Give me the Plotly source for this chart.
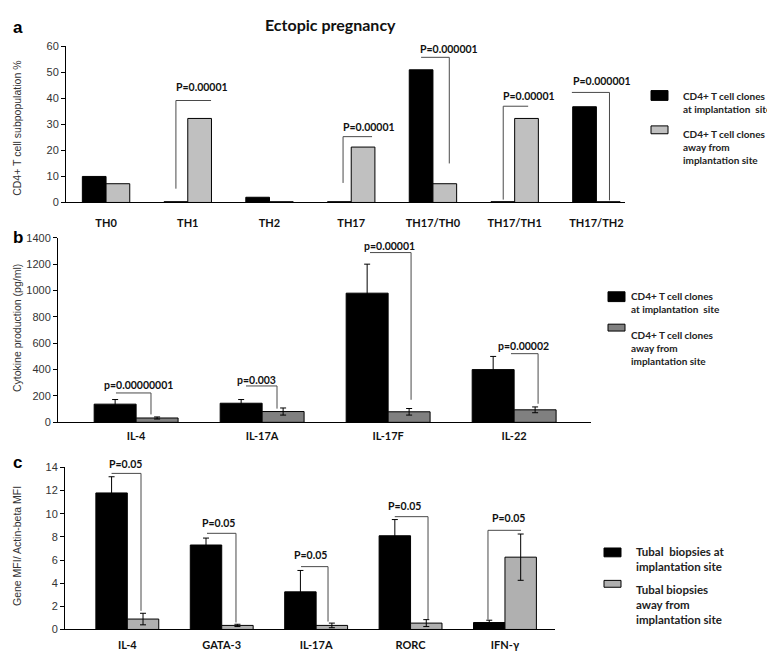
import plotly.graph_objects as go

W, H = 775, 652

# ---------------- data ----------------
a_categories = ["TH0", "TH1", "TH2", "TH17", "TH17/TH0", "TH17/TH1", "TH17/TH2"]
a_at_site = [10.0, 0.3, 2.0, 0.3, 51.0, 0.3, 36.8]
a_away = [7.2, 32.3, 0.3, 21.3, 7.2, 32.3, 0.3]

b_categories = ["IL-4", "IL-17A", "IL-17F", "IL-22"]
b_at_site = [138, 145, 980, 400]
b_at_site_err = [35, 28, 220, 100]
b_away = [33, 82, 80, 95]
b_away_err = [8, 27, 25, 22]

c_categories = ["IL-4", "GATA-3", "IL-17A", "RORC", "IFN-γ"]
c_at_site = [11.8, 7.3, 3.25, 8.1, 0.6]
c_at_site_err = [1.4, 0.6, 1.85, 1.4, 0.2]
c_away = [0.9, 0.35, 0.35, 0.55, 6.25]
c_away_err = [0.5, 0.1, 0.2, 0.3, 2.0]

a_pvalues = ["P=0.00001", "P=0.00001", "P=0.000001", "P=0.00001", "P=0.000001"]
b_pvalues = ["p=0.00000001", "p=0.003", "p=0.00001", "p=0.00002"]
c_pvalues = ["P=0.05", "P=0.05", "P=0.05", "P=0.05", "P=0.05"]

# ---------------- styling ----------------
LATO = "Lato"
ARIAL = "Liberation Sans"
BRK = "#4a4a4a"


def px_x(x):
    return x / W


def px_y(y):
    return 1 - y / H


fig = go.Figure()

# panel geometry (pixels)
panels = {
    "a": dict(x0=58, x1=617, y0=33, y1=192, xr=[-0.49, 6.35], yr=[0, 60], dt=10, bw=0.29, tl=10),
    "b": dict(x0=50, x1=583, y0=228, y1=416, xr=[-0.62, 3.61], yr=[0, 1400], dt=200, bw=0.333, tl=3),
    "c": dict(x0=57, x1=547, y0=462, y1=627, xr=[-0.66, 4.53], yr=[0, 14], dt=2, bw=0.333, tl=5),
}
grey = {"a": "#c0c0c0", "b": "#808080", "c": "#b0b0b0"}

series = {
    "a": (a_categories, a_at_site, None, a_away, None),
    "b": (b_categories, b_at_site, b_at_site_err, b_away, b_away_err),
    "c": (c_categories, c_at_site, c_at_site_err, c_away, c_away_err),
}

axis_ids = {"a": ("x", "y", "xaxis", "yaxis"), "b": ("x2", "y2", "xaxis2", "yaxis2"),
            "c": ("x3", "y3", "xaxis3", "yaxis3")}

layout_axes = {}
for key, p in panels.items():
    cats, v1, e1, v2, e2 = series[key]
    xs = list(range(len(cats)))
    xa, ya, xan, yan = axis_ids[key]
    bw = p["bw"]
    err1 = dict(type="data", array=e1, symmetric=True, color="black", thickness=1, width=3) if e1 else None
    err2 = dict(type="data", array=e2, symmetric=True, color="black", thickness=1, width=3) if e2 else None
    fig.add_trace(go.Bar(x=xs, y=v1, width=bw, offset=-bw,
                         marker=dict(color="black", line=dict(color="black", width=1)),
                         error_y=err1, xaxis=xa, yaxis=ya, showlegend=False))
    fig.add_trace(go.Bar(x=xs, y=v2, width=bw, offset=0,
                         marker=dict(color=grey[key], line=dict(color="black", width=1)),
                         error_y=err2, xaxis=xa, yaxis=ya, showlegend=False))
    layout_axes[xan] = dict(
        domain=[px_x(p["x0"]), px_x(p["x1"])], range=p["xr"], anchor=ya,
        tickmode="array", tickvals=xs, ticktext=cats,
        showline=True, linecolor="black", linewidth=1, showgrid=False, zeroline=False,
        ticks="outside", ticklen=p["tl"], tickcolor="rgba(0,0,0,0)",
        tickfont=dict(family=LATO, size=11, color="#111", weight="bold"),
    )
    layout_axes[yan] = dict(
        domain=[px_y(p["y1"]), px_y(p["y0"])], range=p["yr"], anchor=xa, dtick=p["dt"],
        showline=True, linecolor="black", linewidth=1, showgrid=False, zeroline=False,
        ticks="outside", ticklen=4, tickcolor="black",
        tickfont=dict(family=ARIAL, size=11, color="#333"),
    )

fig.update_layout(**layout_axes)

shapes = []
annotations = []


def line(xref, yref, x0, y0, x1, y1):
    shapes.append(dict(type="line", xref=xref, yref=yref, x0=x0, y0=y0, x1=x1, y1=y1,
                       line=dict(color=BRK, width=1)))


def value_to_paper(key, v):
    p = panels[key]
    d0, d1 = px_y(p["y1"]), px_y(p["y0"])
    r0, r1 = p["yr"]
    return d0 + (v - r0) / (r1 - r0) * (d1 - d0)


def bracket(key, xl, xr, yt, yl, yr_, tx, ty, text, size):
    xa, ya = axis_ids[key][0], axis_ids[key][1]
    line(xa, ya, xl, yt, xr, yt)
    if yl is not None:
        line(xa, ya, xl, yl, xl, yt)
    if yr_ is not None:
        line(xa, ya, xr, yr_, xr, yt)
    annotations.append(dict(xref=xa, yref="paper", x=tx, y=value_to_paper(key, ty), text=text,
                            showarrow=False,
                            font=dict(family=LATO, size=size, color="#111", weight="bold"),
                            xanchor="center", yanchor="middle"))


# panel a brackets: x_left, x_right, y_top, y_left_bottom, y_right_bottom, text_x, text_y
a_br = [
    (0.855, 1.285, 39.2, 5.3, None, 1.18, 44.5),
    (2.90, 3.255, 25.3, 7.5, None, 3.22, 29.0),
    (3.855, 4.20, 55.8, None, 15.0, 4.20, 59.0),
    (4.86, 5.165, 37.0, 1.1, None, 5.18, 40.8),
    (5.70, 6.16, 42.3, None, 0.8, 6.07, 46.8),
]
for br, t in zip(a_br, a_pvalues):
    bracket("a", *br, t, 10.5)

b_br = [
    (-0.16, 0.118, 223, None, 60, 0.02, 283),
    (0.872, 1.118, 276, None, 104, 0.955, 320),
    (1.856, 2.182, 1288, None, 171, 2.01, 1340),
    (2.975, 3.19, 521, None, 141, 3.074, 581),
]
for br, t in zip(b_br, b_pvalues):
    bracket("b", *br, t, 10.5)

c_br = [
    (-0.167, 0.145, 13.49, None, 1.61, -0.014, 14.33),
    (0.844, 1.151, 8.31, None, 0.6, 0.961, 9.16),
    (1.84, 2.126, 5.43, None, 0.68, 1.94, 6.45),
    (2.833, 3.185, 9.75, None, 0.9, 2.94, 10.69),
    (3.82, 4.17, 8.57, 0.85, None, 4.033, 9.67),
]
for br, t in zip(c_br, c_pvalues):
    bracket("c", *br, t, 10.5)


# legends (boxes + text), pixel coords
def legend_box(x0, y0, x1, y1, color):
    shapes.append(dict(type="rect", xref="paper", yref="paper",
                       x0=px_x(x0), x1=px_x(x1), y0=px_y(y1), y1=px_y(y0),
                       fillcolor=color, line=dict(color="black", width=1)))


def legend_text(x, yc, text, size):
    annotations.append(dict(xref="paper", yref="paper", x=px_x(x), y=px_y(yc), text=text,
                            showarrow=False, align="left", xanchor="left", yanchor="middle",
                            font=dict(family=LATO, size=size, color="#222", weight="bold")))


legend_box(643, 78, 660, 88, "black")
legend_text(673, 90, "CD4+ T cell clones<br>at implantation  site", 10)
legend_box(643, 114, 660, 122, grey["a"])
legend_text(673, 135, "CD4+ T cell clones<br>away from<br>implantation site", 10)

legend_box(600, 283, 617, 293, "black")
legend_text(621, 294, "CD4+ T cell clones<br>at implantation  site", 10)
legend_box(600, 316, 617, 323, grey["b"])
legend_text(621, 340, "CD4+ T cell clones<br>away from<br>implantation site", 10)

legend_box(596, 544, 613, 553, "black")
legend_text(626, 555, "Tubal  biopsies at<br>implantation site", 11.5)
legend_box(596, 577, 613, 584, grey["c"])
legend_text(626, 602, "Tubal biopsies<br>away from<br>implantation site", 11.5)

# y axis titles
for yc, t in [(117, "CD4+ T cell subpopulation %"), (320, "Cytokine production (pg/ml)"),
              (542, "Gene MFI/ Actin-beta MFI")]:
    annotations.append(dict(xref="paper", yref="paper", x=px_x(9), y=px_y(yc), text=t, textangle=-90,
                            showarrow=False, xanchor="center", yanchor="middle",
                            font=dict(family=ARIAL, size=10.5, color="#333")))

# panel letters
for yc, t in [(14, "a"), (228, "b"), (457, "c")]:
    annotations.append(dict(xref="paper", yref="paper", x=px_x(3), y=px_y(yc), text="<b>%s</b>" % t,
                            showarrow=False, xanchor="left", yanchor="middle",
                            font=dict(family=ARIAL, size=17, color="black")))

# title
annotations.append(dict(xref="paper", yref="paper", x=px_x(322), y=px_y(11), text="Ectopic pregnancy",
                        showarrow=False, xanchor="center", yanchor="middle",
                        font=dict(family=LATO, size=16, color="#111", weight="bold")))

fig.update_layout(
    width=W, height=H, margin=dict(l=0, r=0, t=0, b=0),
    paper_bgcolor="white", plot_bgcolor="white",
    barmode="overlay", shapes=shapes, annotations=annotations, showlegend=False,
)

fig.write_html("out.html")
